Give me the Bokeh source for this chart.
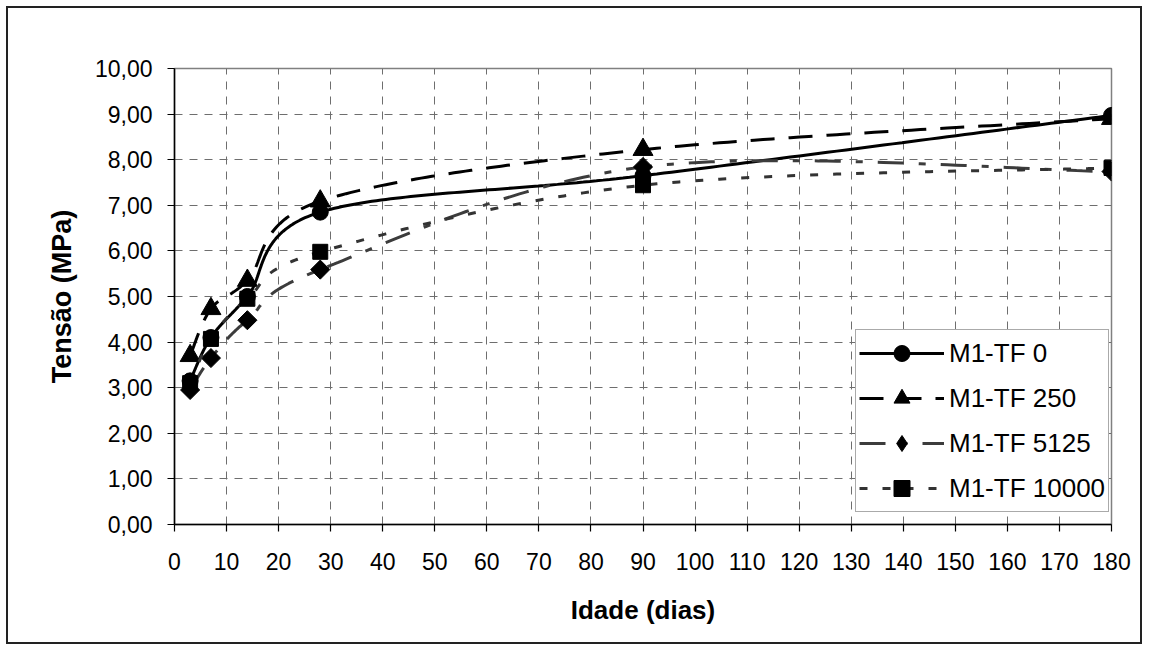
import numpy as np
from bokeh.plotting import figure
from bokeh.models import (Range1d, FixedTicker, CustomJSTickFormatter, Legend, LegendItem)
from bokeh.embed import file_html
from bokeh.resources import INLINE

# ---- data ----
idade = [3, 7, 14, 28, 90, 180]
tf0 = [3.15, 4.10, 5.00, 6.85, 7.65, 8.97]
tf250 = [3.70, 4.73, 5.35, 7.09, 8.22, 8.90]
tf5125 = [2.95, 3.65, 4.48, 5.59, 7.84, 7.74]
tf10000 = [3.10, 4.07, 4.95, 5.98, 7.44, 7.82]
series_names = ["M1-TF 0", "M1-TF 250", "M1-TF 5125", "M1-TF 10000"]
x_ticks = list(range(0, 181, 10))
y_ticks = list(range(0, 11))


def smooth(xs, ys, n=60):
    pts = np.column_stack([xs, ys]).astype(float)
    ox, oy = [], []
    m = len(pts)
    for i in range(m - 1):
        p0 = pts[i - 1] if i > 0 else pts[i]
        p1 = pts[i]
        p2 = pts[i + 1]
        p3 = pts[i + 2] if i + 2 < m else pts[i + 1]
        c1 = p1 + (p2 - p0) / 6.0
        c2 = p2 - (p3 - p1) / 6.0
        ts = np.linspace(0, 1, n)
        if i > 0:
            ts = ts[1:]
        for t in ts:
            b = ((1 - t) ** 3) * p1 + 3 * ((1 - t) ** 2) * t * c1 + 3 * (1 - t) * t * t * c2 + t ** 3 * p2
            ox.append(b[0]); oy.append(b[1])
    return ox, oy


W, H = 1136, 638
p = figure(width=W, height=H, output_backend="svg", toolbar_location=None,
           x_range=Range1d(0, 180), y_range=Range1d(0, 10),
           min_border_left=166, min_border_right=33, min_border_top=60,
           min_border_bottom=122)
p.styles = {"border": "2px solid #222222", "margin-left": "6px", "margin-top": "6px"}

FONT = "Liberation Sans"
p.background_fill_color = "white"
p.border_fill_color = "white"
p.outline_line_color = "#808080"
p.outline_line_width = 1.5

# grids
for g in (p.xgrid, p.ygrid):
    g.grid_line_color = "#6e6e6e"
    g.grid_line_dash = "8 7"
    g.grid_line_width = 1
p.xgrid.ticker = FixedTicker(ticks=x_ticks)
p.ygrid.ticker = FixedTicker(ticks=y_ticks)

# axes
p.xaxis.ticker = FixedTicker(ticks=x_ticks)
p.yaxis.ticker = FixedTicker(ticks=y_ticks)
p.yaxis.formatter = CustomJSTickFormatter(code="return tick.toFixed(2).replace('.', ',');")
for ax in (p.xaxis[0], p.yaxis[0]):
    ax.axis_line_color = "black"
    ax.axis_line_width = 1.5
    ax.major_tick_line_color = "black"
    ax.major_tick_line_width = 1.2
    ax.major_tick_out = 7
    ax.major_tick_in = 0
    ax.minor_tick_line_color = None
    ax.major_label_text_font = FONT
    ax.major_label_text_font_size = "23px"
    ax.major_label_text_color = "black"
    ax.axis_label_text_font = FONT
    ax.axis_label_text_font_style = "bold"
    ax.axis_label_text_color = "black"
p.xaxis.axis_label = "Idade (dias)"
p.yaxis.axis_label = "Tensão (MPa)"
p.xaxis.axis_label_text_font_size = "26px"
p.yaxis.axis_label_text_font_size = "27px"
p.xaxis.major_label_standoff = 21
p.yaxis.major_label_standoff = 15
p.xaxis.axis_label_standoff = 22
p.yaxis.axis_label_standoff = 15

styles = [
    (tf0, "black", "solid", "circle", 16, 0.0, False),
    (tf250, "black", "24 14", "triangle", 20, 0.0, False),
    (tf5125, "#3c3c3c", "26 15 7 15", "square", 13.5, np.pi / 4, True),
    (tf10000, "#333333", "8 15", "square", 15, 0.0, False),
]

items = []
for name, (ys, col, dash, mk, sz, ang, leg_diamond) in zip(series_names, styles):
    sx, sy = smooth(idade, ys)
    lr = p.line(sx, sy, line_color=col, line_width=3, line_dash=dash)
    mr = p.scatter(idade, ys, marker=mk, size=sz, angle=ang, fill_color="black",
                   line_color="black")
    rends = [lr, mr]
    if leg_diamond:
        # legend-only helper (no visible points): legend draws a diamond glyph
        helper = p.scatter(idade, np.full(len(idade), np.nan), marker="diamond", size=10,
                           fill_color="black", line_color="black")
        rends = [lr, helper]
    items.append(LegendItem(label=name, renderers=rends))

legend = Legend(items=items, location=(681, 12))
legend.label_text_font = FONT
legend.label_text_font_size = "26px"
legend.label_text_color = "black"
legend.glyph_width = 85
legend.glyph_height = 40
legend.label_height = 40
legend.label_width = 150
legend.label_standoff = 5
legend.spacing = 5
legend.padding = 3
legend.margin = 0
legend.border_line_color = "#555555"
legend.border_line_width = 1.5
legend.background_fill_color = "white"
legend.background_fill_alpha = 1
p.add_layout(legend, "center")

open("out.html", "w").write(file_html(p, INLINE))
